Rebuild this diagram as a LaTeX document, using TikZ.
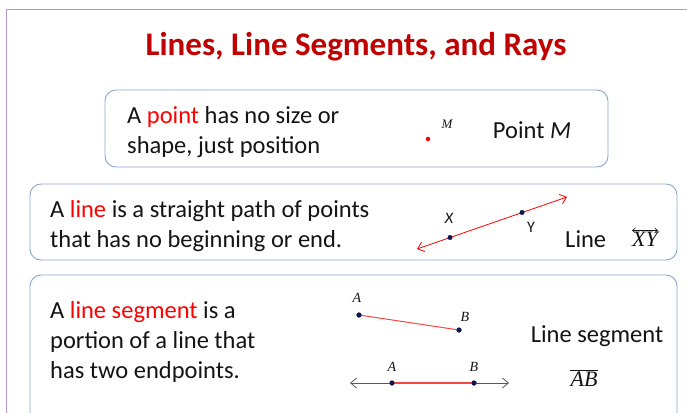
\documentclass[tikz,border=0pt]{standalone}
\usepackage{fontspec}
\setmainfont{Carlito}
\usetikzlibrary{arrows.meta}
\definecolor{titlered}{RGB}{192,0,0}
\definecolor{keyred}{RGB}{255,0,0}
\definecolor{segred}{RGB}{245,70,70}
\definecolor{boxline}{RGB}{140,165,200}
\definecolor{frame}{RGB}{180,150,210}
\definecolor{dotblue}{RGB}{20,20,80}
\definecolor{txt}{RGB}{20,20,20}
\newfontfamily\serifit{Liberation Serif}
\tikzset{barb/.tip={Straight Barb[length=6pt,width=10pt]},
  smallbarb/.tip={Straight Barb[length=3pt,width=5pt]}}
\begin{document}
\begin{tikzpicture}[x=1pt,y=-1pt,
  box/.style={draw=boxline,line width=0.9pt,rounded corners=11pt},
  body/.style={anchor=west,align=left,text=txt,font=\fontsize{24.5}{30}\selectfont,inner sep=0pt},
  lbl/.style={text=txt,font=\fontsize{24.5}{26}\selectfont,inner sep=0pt},
  ptlbl/.style={text=txt,font=\fontsize{14}{14}\selectfont\serifit\itshape,inner sep=0pt},
  ptlblsans/.style={text=txt,font=\fontsize{16}{16}\selectfont,inner sep=0pt},
  bigit/.style={text=txt,inner sep=0pt,font=\fontsize{22}{22}\selectfont\serifit\itshape},
  dot/.style={circle,fill=dotblue,inner sep=0pt,minimum size=5pt},
  rdot/.style={circle,fill=keyred,inner sep=0pt,minimum size=4.5pt}]
\useasboundingbox (0,0) rectangle (687,412);
\fill[white] (0,0) rectangle (687,412);
\draw[frame,line width=1pt] (690,10) -- (6,10) -- (6,415);
\node[text=titlered,font=\fontsize{33}{33}\selectfont\bfseries,inner sep=0pt] (title) at (356,47) {Lines, Line Segments, and Rays};
% box 1
\draw[box] (105,90) rectangle (608,167);
\node[body] (t1) at (127,132) {A \textcolor{keyred}{point} has no size or\\shape, just position};
\node[rdot] (M) at (428,139) {};
\node[ptlbl,font=\fontsize{13}{13}\selectfont\serifit\itshape] (Ml) at (447,124) {M};
\node[lbl] (pM) at (532,130) {Point \textit{M}};
% box 2
\draw[box] (30,184) rectangle (677,260);
\node[body] (t2) at (50,226) {A \textcolor{keyred}{line} is a straight path of points\\that has no beginning or end.};
\coordinate (L1) at (417,249);
\coordinate (L2) at (567,197);
\draw[keyred,line width=0.8pt,barb-barb] (L1) -- (L2);
\node[dot] (X) at (450,237.5) {};
\node[dot] (Y) at (522,212.5) {};
\node[ptlblsans] (Xl) at (449,218) {\itshape X};
\node[ptlblsans] (Yl) at (531,227) {Y};
\node[lbl,anchor=west] (lXY) at (565,239) {Line};
\node[bigit,anchor=base] (XY) at (645,246) {XY};
\draw[txt,line width=0.6pt,smallbarb-smallbarb] ([yshift=1pt]XY.north west) -- ([yshift=1pt]XY.north east);
% box 3
\draw[box] (30,275) rectangle (677,430);
\node[body] (t3) at (50,342) {A \textcolor{keyred}{line segment} is a\\portion of a line that\\has two endpoints.};
\node[dot] (A1) at (359,315) {};
\node[dot] (B1) at (459,330) {};
\draw[segred,line width=1pt] (A1.center) -- (B1.center);
\node[dot] at (359,315) {};
\node[dot] at (459,330) {};
\node[ptlbl] (A1l) at (357,298) {A};
\node[ptlbl] (B1l) at (465,317) {B};
\coordinate (S1) at (350,383);
\coordinate (S2) at (509,383);
\node[dot] (A2) at (392,383) {};
\node[dot] (B2) at (474,383) {};
\draw[gray!70!black,line width=0.8pt,barb-barb] (S1) -- (S2);
\draw[segred,line width=1.1pt] (A2.center) -- (B2.center);
\node[dot] at (392,383) {};
\node[dot] at (474,383) {};
\node[ptlbl] (A2l) at (392,367) {A};
\node[ptlbl] (B2l) at (474,367) {B};
\node[lbl] (ls) at (597,336) {Line segment};
\node[bigit,anchor=base] (AB) at (584,386) {AB};
\draw[txt,line width=0.6pt] ([yshift=1pt]AB.north west) -- ([yshift=1pt]AB.north east);
\end{tikzpicture}
\end{document}
